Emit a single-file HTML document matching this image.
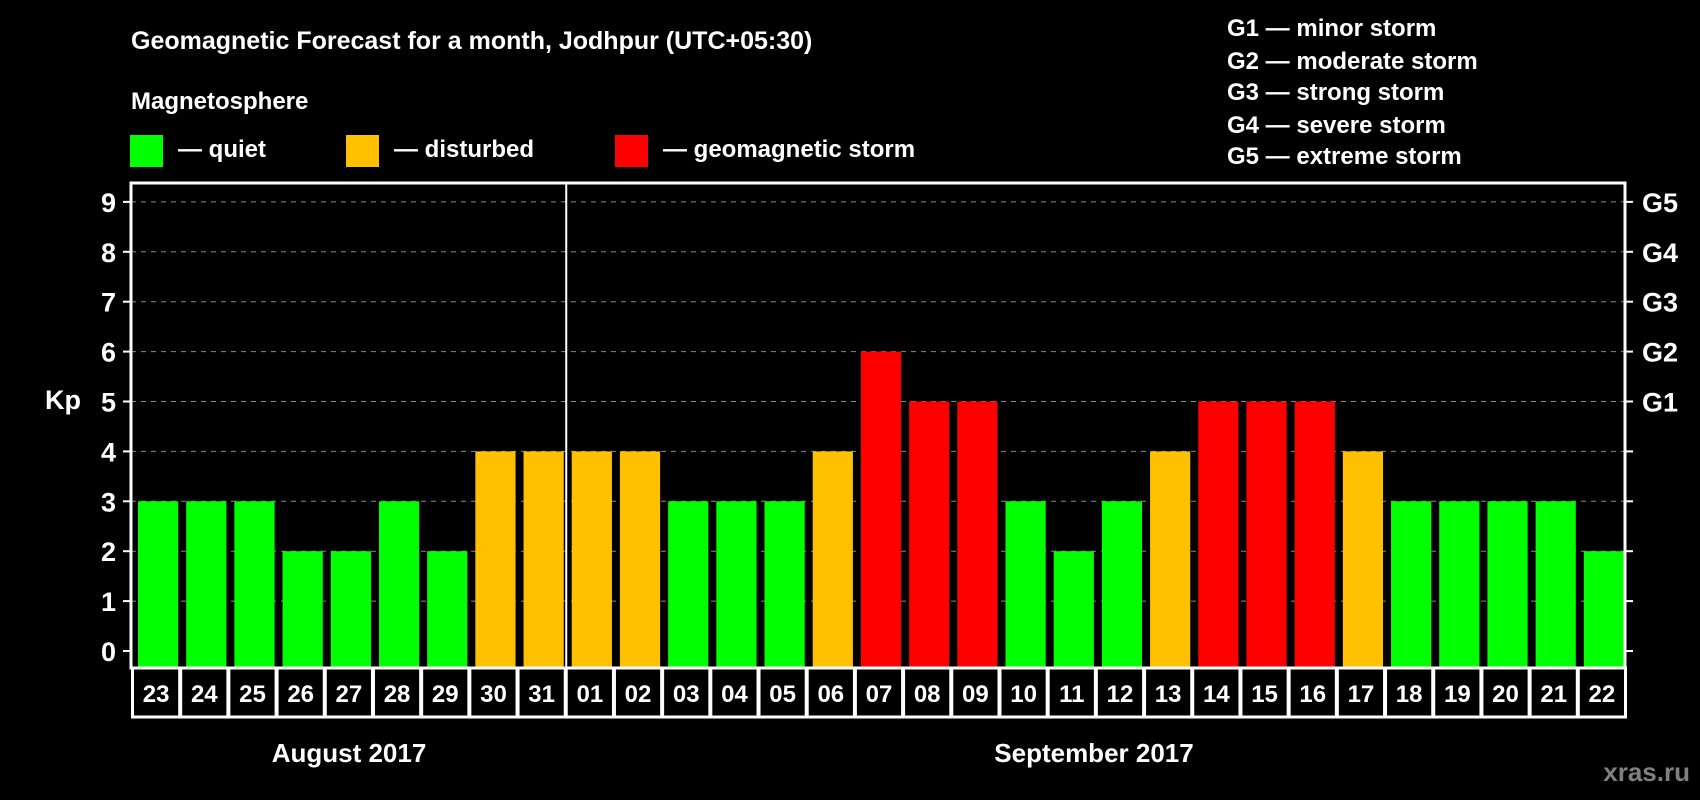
<!DOCTYPE html>
<html><head><meta charset="utf-8"><style>
html,body{margin:0;padding:0;background:#000;}
svg{display:block;font-family:"Liberation Sans",Arial,sans-serif;font-weight:bold;}
</style></head><body>
<svg id="chart" width="1700" height="800" viewBox="0 0 1700 800">
<rect x="0" y="0" width="1700" height="800" fill="#000"/>
<text x="131" y="49" font-size="25" fill="#fff">Geomagnetic Forecast for a month, Jodhpur (UTC+05:30)</text>
<text x="131" y="109" font-size="24" fill="#fff">Magnetosphere</text>
<g><rect x="130" y="135" width="33" height="32" fill="#00ff00"/><text x="178" y="157" font-size="24" fill="#fff">— quiet</text></g>
<g><rect x="346" y="135" width="33" height="32" fill="#ffc000"/><text x="394" y="157" font-size="24" fill="#fff">— disturbed</text></g>
<g><rect x="615" y="135" width="33" height="32" fill="#ff0000"/><text x="663" y="157" font-size="24" fill="#fff">— geomagnetic storm</text></g>
<g font-size="24" fill="#fff">
<text x="1227" y="36">G1 — minor storm</text>
<text x="1227" y="69">G2 — moderate storm</text>
<text x="1227" y="100">G3 — strong storm</text>
<text x="1227" y="133">G4 — severe storm</text>
<text x="1227" y="164">G5 — extreme storm</text>
</g>
<text x="63" y="409" font-size="27" fill="#fff" text-anchor="middle">Kp</text>
<g id="grid"></g><g id="bars"></g><g id="axes"></g>
<text x="349" y="762" font-size="26" fill="#fff" text-anchor="middle">August 2017</text>
<text x="1094" y="762" font-size="26" fill="#fff" text-anchor="middle">September 2017</text>
<text x="1690" y="781" font-size="26" fill="#808080" text-anchor="end">xras.ru</text>
</svg>
<script>
const days = ["23","24","25","26","27","28","29","30","31","01","02","03","04","05","06","07","08","09","10","11","12","13","14","15","16","17","18","19","20","21","22"];
const kpValues = [3,3,3,2,2,3,2,4,4,4,4,3,3,3,4,6,5,5,3,2,3,4,5,5,5,4,3,3,3,3,2];
const yTicks = [0,1,2,3,4,5,6,7,8,9];
const gLabels = ["","","","","","G1","G2","G3","G4","G5"];
const monthBreakIndex = 9;

const NS = "http://www.w3.org/2000/svg";
const L = 131, R = 1625, T = 183, B = 668, BOXB = 717;
const slot = (R - L) / days.length;
function yScale(v){ return 651 - v * 49.9; }
function xScale(i){ return L + i * slot; }
function mk(tag, attrs, parent){ const e = document.createElementNS(NS, tag); for (const k in attrs) e.setAttribute(k, attrs[k]); parent.appendChild(e); return e; }
function color(v){ return v >= 5 ? "#ff0000" : (v >= 4 ? "#ffc000" : "#00ff00"); }

const grid = document.getElementById("grid"), bars = document.getElementById("bars"), axes = document.getElementById("axes");
yTicks.forEach((t, i) => {
  const y = yScale(t);
  if (t > 0) {
    const gl = mk("line", {x1:L, x2:R, y1:y, y2:y, stroke:"#888", "stroke-width":1, "stroke-dasharray":"5,5"}, grid);
    
    
  }
  const tk = mk("line", {x1:L-8, x2:L, y1:y, y2:y, stroke:"#fff", "stroke-width":2}, axes);
  
  
  const tk2 = mk("line", {x1:R, x2:R+8, y1:y, y2:y, stroke:"#fff", "stroke-width":2}, axes);
  
  
  const lb = mk("text", {x:116, y:y+10, "font-size":27, fill:"#fff", "text-anchor":"end"}, axes);
  lb.textContent = t;
  
  
  if (gLabels[i]) {
    const gl2 = mk("text", {x:1642, y:y+10, "font-size":27, fill:"#fff"}, axes);
    gl2.textContent = gLabels[i];
    
    
  }
});
kpValues.forEach((v, i) => {
  const x = xScale(i);
  const b = mk("rect", {x:x+7, y:yScale(v), width:slot-8, height:B-yScale(v), fill:color(v)}, bars);
  
  
});
days.forEach((d, i) => {
  const x = xScale(i);
  const bx = mk("rect", {x:x+1.5, y:B, width:slot-1, height:BOXB-B, fill:"none", stroke:"#fff", "stroke-width":3}, axes);
  
  
  const t = mk("text", {x:x+slot/2+1, y:B+34, "font-size":24, fill:"#fff", "text-anchor":"middle"}, axes);
  t.textContent = d;
  
  
});
const fr = mk("rect", {x:L, y:T, width:R-L, height:B-T, fill:"none", stroke:"#fff", "stroke-width":3}, axes);


const mx = xScale(monthBreakIndex) + 1.5;
const ml = mk("line", {x1:mx, x2:mx, y1:T, y2:BOXB, stroke:"#fff", "stroke-width":2}, axes);


</script>
</body></html>
